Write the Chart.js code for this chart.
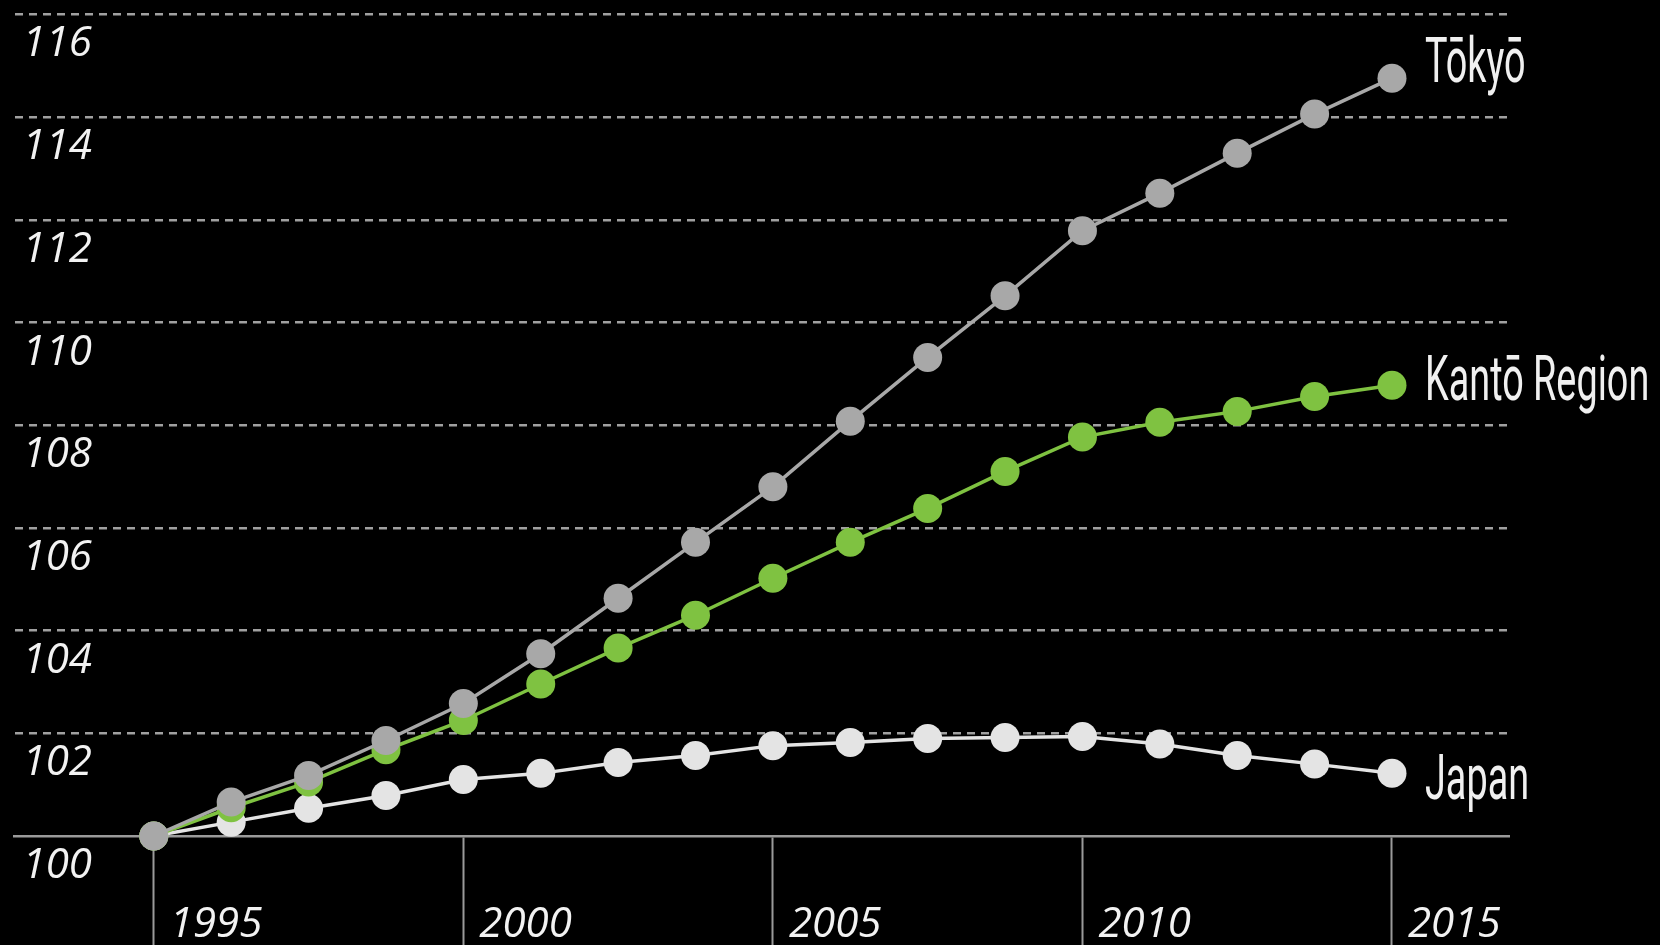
<!DOCTYPE html>
<html>
<head>
<meta charset="utf-8">
<script src="https://cdn.jsdelivr.net/npm/chart.js@4.4.1/dist/chart.umd.min.js"></script>
<style>
  html, body { margin: 0; background: #000; }
  #wrap { width: 1660px; height: 945px; }
</style>
</head>
<body>
<div id="wrap"><canvas id="growth"></canvas></div>
<script>
// index, 1995 = 100
const years = [1995, 1996.25, 1997.5, 1998.75, 2000, 2001.25, 2002.5, 2003.75, 2005,
               2006.25, 2007.5, 2008.75, 2010, 2011.25, 2012.5, 2013.75, 2015];
const tickYears = [1995, 2000, 2005, 2010, 2015];
const yTicks = [100, 102, 104, 106, 108, 110, 112, 114, 116];

const tokyo = [100, 100.66, 101.18, 101.86, 102.58, 103.55, 104.63, 105.72, 106.80,
               108.08, 109.32, 110.52, 111.79, 112.52, 113.30, 114.06, 114.76];
const kanto = [100, 100.55, 101.05, 101.68, 102.25, 102.96, 103.66, 104.30, 105.02,
               105.72, 106.38, 107.10, 107.77, 108.06, 108.27, 108.56, 108.78];
const japan = [100, 100.27, 100.54, 100.79, 101.10, 101.22, 101.43, 101.57, 101.76,
               101.82, 101.90, 101.92, 101.94, 101.79, 101.57, 101.40, 101.22];

function series(label, values, color, labelDy) {
  return {
    label: label,
    data: values.map((v, i) => ({ x: years[i], y: v })),
    borderColor: color,
    backgroundColor: color,
    borderWidth: 3.5,
    pointRadius: 14.5,
    pointBorderWidth: 0,
    tension: 0,
    clip: false,
    labelDy: labelDy
  };
}

// names at the end of each line
const endLabels = {
  id: 'endLabels',
  afterDatasetsDraw(chart) {
    const ctx = chart.ctx;
    chart.data.datasets.forEach((ds, i) => {
      const pts = chart.getDatasetMeta(i).data;
      const pt = pts[pts.length - 1];
      ctx.save();
      ctx.translate(pt.x + 33, pt.y + ds.labelDy);
      ctx.scale(0.6, 1);
      ctx.font = '63px Roboto, sans-serif';
      ctx.fillStyle = '#f0f0f0';
      ctx.textBaseline = 'alphabetic';
      ctx.fillText(ds.label, 0, 0);
      ctx.restore();
    });
  }
};

const tickFont = { family: '"Open Sans", sans-serif', size: 42, style: 'italic' };

new Chart(document.getElementById('growth'), {
  type: 'line',
  data: {
    datasets: [
      series('Tōkyō', tokyo, '#a8a8a8', 4),
      series('Kantō Region', kanto, '#7fc241', 15),
      series('Japan', japan, '#e4e4e4', 26)
    ]
  },
  options: {
    responsive: true,
    maintainAspectRatio: false,
    animation: false,
    layout: { padding: { top: 10, left: 12, right: 151, bottom: 0 } },
    plugins: { legend: { display: false }, tooltip: { enabled: false } },
    scales: {
      x: {
        type: 'linear',
        min: 1992.75,
        max: 2016.89,
        afterBuildTicks: s => { s.ticks = tickYears.map(v => ({ value: v })); },
        afterFit: s => { s.height = 109; s.paddingLeft = 0; s.paddingRight = 0; },
        grid: {
          drawOnChartArea: false,
          drawTicks: true,
          tickLength: 109,
          tickColor: '#9a9a9a',
          tickWidth: 2
        },
        border: { display: true, color: '#9a9a9a', width: 2.5 },
        ticks: {
          color: '#f2f2f2',
          font: tickFont,
          align: 'start',
          labelOffset: 16,
          padding: -45,
          maxRotation: 0,
          autoSkip: false,
          callback: v => String(v)
        }
      },
      y: {
        min: 100,
        max: 116,
        afterBuildTicks: s => { s.ticks = yTicks.map(v => ({ value: v })); },
        afterFit: s => { s.width = 0; s.paddingTop = 0; s.paddingBottom = 0; },
        grid: {
          drawTicks: false,
          lineWidth: 2.5,
          color: c => c.tick && c.tick.value === 100 ? 'rgba(0,0,0,0)' : '#a0a0a0'
        },
        border: { display: false, dash: [8, 6] },
        ticks: {
          color: '#f2f2f2',
          font: tickFont,
          mirror: true,
          padding: 8,
          labelOffset: 30,
          autoSkip: false
        }
      }
    }
  },
  plugins: [endLabels]
});
</script>
</body>
</html>
